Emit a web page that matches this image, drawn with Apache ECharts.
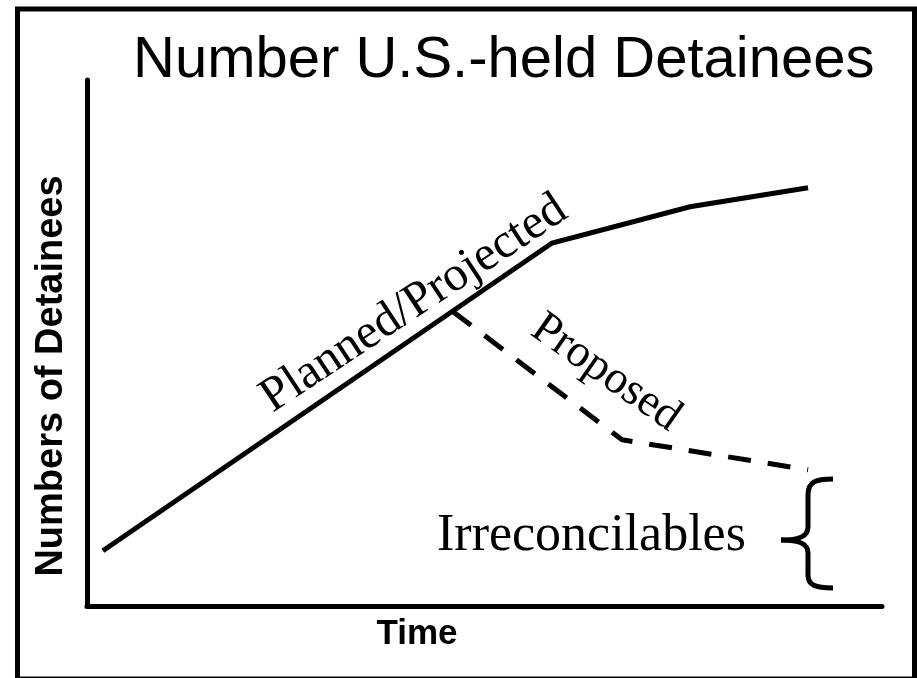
<!DOCTYPE html>
<html>
<head>
<meta charset="utf-8">
<script src="https://cdn.jsdelivr.net/npm/echarts@6/dist/echarts.min.js"></script>
<style>
html,body{margin:0;padding:0;background:#fff;}
#chart{width:917px;height:678px;}
</style>
</head>
<body>
<div id="chart"></div>
<script>
// Time positions (0-100 scale) and relative detainee numbers (0-100 scale)
const timePlanned = [2.0, 58.5, 75.85, 90.7];
const valuesPlanned = [10.5, 69.0, 75.9, 79.5];
const timeProposed = [46.0, 67.3, 90.7];
const valuesProposed = [56.0, 31.6, 25.9];

const titleText = 'Number U.S.-held Detainees';
const xName = 'Time';
const yName = 'Numbers of Detainees';
const labelPlanned = 'Planned/Projected';
const labelProposed = 'Proposed';
const labelIrreconcilables = 'Irreconcilables';

const chart = echarts.init(document.getElementById('chart'), null, {renderer: 'canvas'});

const planned = timePlanned.map((t, i) => [t, valuesPlanned[i]]);
const proposed = timeProposed.map((t, i) => [t, valuesProposed[i]]);

const sans = '"Liberation Sans", Arial, sans-serif';
const serif = '"Liberation Serif", "Times New Roman", serif';
const braceStyle = {fill: 'none', stroke: '#000', lineWidth: 5, lineCap: 'butt'};

chart.setOption({
  backgroundColor: '#ffffff',
  animation: false,
  title: {
    text: titleText,
    left: 133,
    top: 32,
    padding: 0,
    textStyle: {fontFamily: sans, fontSize: 58, fontWeight: 'normal', color: '#000', lineHeight: 58}
  },
  grid: {left: 87, right: 35, top: 80, bottom: 72, containLabel: false},
  xAxis: {
    type: 'value', min: 0, max: 100,
    name: xName, nameLocation: 'middle', nameGap: 11,
    nameTextStyle: {fontFamily: sans, fontSize: 35, fontWeight: 'bold', color: '#000', padding: [0, 135, 0, 0], lineHeight: 35},
    axisLine: {show: true, lineStyle: {color: '#000', width: 5}},
    axisTick: {show: false}, axisLabel: {show: false}, splitLine: {show: false}
  },
  yAxis: {
    type: 'value', min: 0, max: 100,
    name: yName, nameLocation: 'middle', nameGap: 16,
    nameTextStyle: {fontFamily: sans, fontSize: 38, fontWeight: 'bold', color: '#000', padding: [0, 66, 0, 0], lineHeight: 38},
    axisLine: {show: true, lineStyle: {color: '#000', width: 5}},
    axisTick: {show: false}, axisLabel: {show: false}, splitLine: {show: false}
  },
  series: [
    {
      name: labelPlanned, type: 'line', data: planned, showSymbol: false, symbol: 'none',
      lineStyle: {color: '#000', width: 5, cap: 'butt', join: 'miter'}, z: 3
    },
    {
      name: labelProposed, type: 'line', data: proposed, showSymbol: false, symbol: 'none',
      lineStyle: {color: '#000', width: 5, type: [23, 17], cap: 'butt', join: 'round'}, z: 3
    }
  ],
  graphic: [
    {
      type: 'rect', z: 0, silent: true,
      shape: {x: 17.5, y: 9, width: 897, height: 670},
      style: {fill: 'none', stroke: '#000', lineWidth: 5}
    },
    {
      type: 'text', x: 414, y: 304, rotation: 33.5 * Math.PI / 180,
      style: {text: labelPlanned, font: '49px ' + serif, fill: '#000', align: 'center', verticalAlign: 'middle'}
    },
    {
      type: 'text', x: 606, y: 373, rotation: -35 * Math.PI / 180,
      style: {text: labelProposed, font: '46px ' + serif, fill: '#000', align: 'center', verticalAlign: 'middle'}
    },
    {
      type: 'text', x: 437, y: 536,
      style: {text: labelIrreconcilables, font: '52px ' + serif, fill: '#000', align: 'left', verticalAlign: 'middle'}
    },
    {
      type: 'bezierCurve', silent: true,
      shape: {x1: 833, y1: 479, cpx1: 815, cpy1: 479, cpx2: 808, cpy2: 482, x2: 808, y2: 495},
      style: braceStyle
    },
    {
      type: 'line', silent: true,
      shape: {x1: 808, y1: 495, x2: 808, y2: 527},
      style: braceStyle
    },
    {
      type: 'bezierCurve', silent: true,
      shape: {x1: 808, y1: 527, cpx1: 808, cpy1: 536, cpx2: 800, cpy2: 540, x2: 781, y2: 540},
      style: braceStyle
    },
    {
      type: 'bezierCurve', silent: true,
      shape: {x1: 781, y1: 540, cpx1: 800, cpy1: 540, cpx2: 808, cpy2: 544, x2: 808, y2: 553},
      style: braceStyle
    },
    {
      type: 'line', silent: true,
      shape: {x1: 808, y1: 553, x2: 808, y2: 575},
      style: braceStyle
    },
    {
      type: 'bezierCurve', silent: true,
      shape: {x1: 808, y1: 575, cpx1: 808, cpy1: 585, cpx2: 815, cpy2: 588, x2: 833, y2: 588},
      style: braceStyle
    }
  ]
});
</script>
</body>
</html>
